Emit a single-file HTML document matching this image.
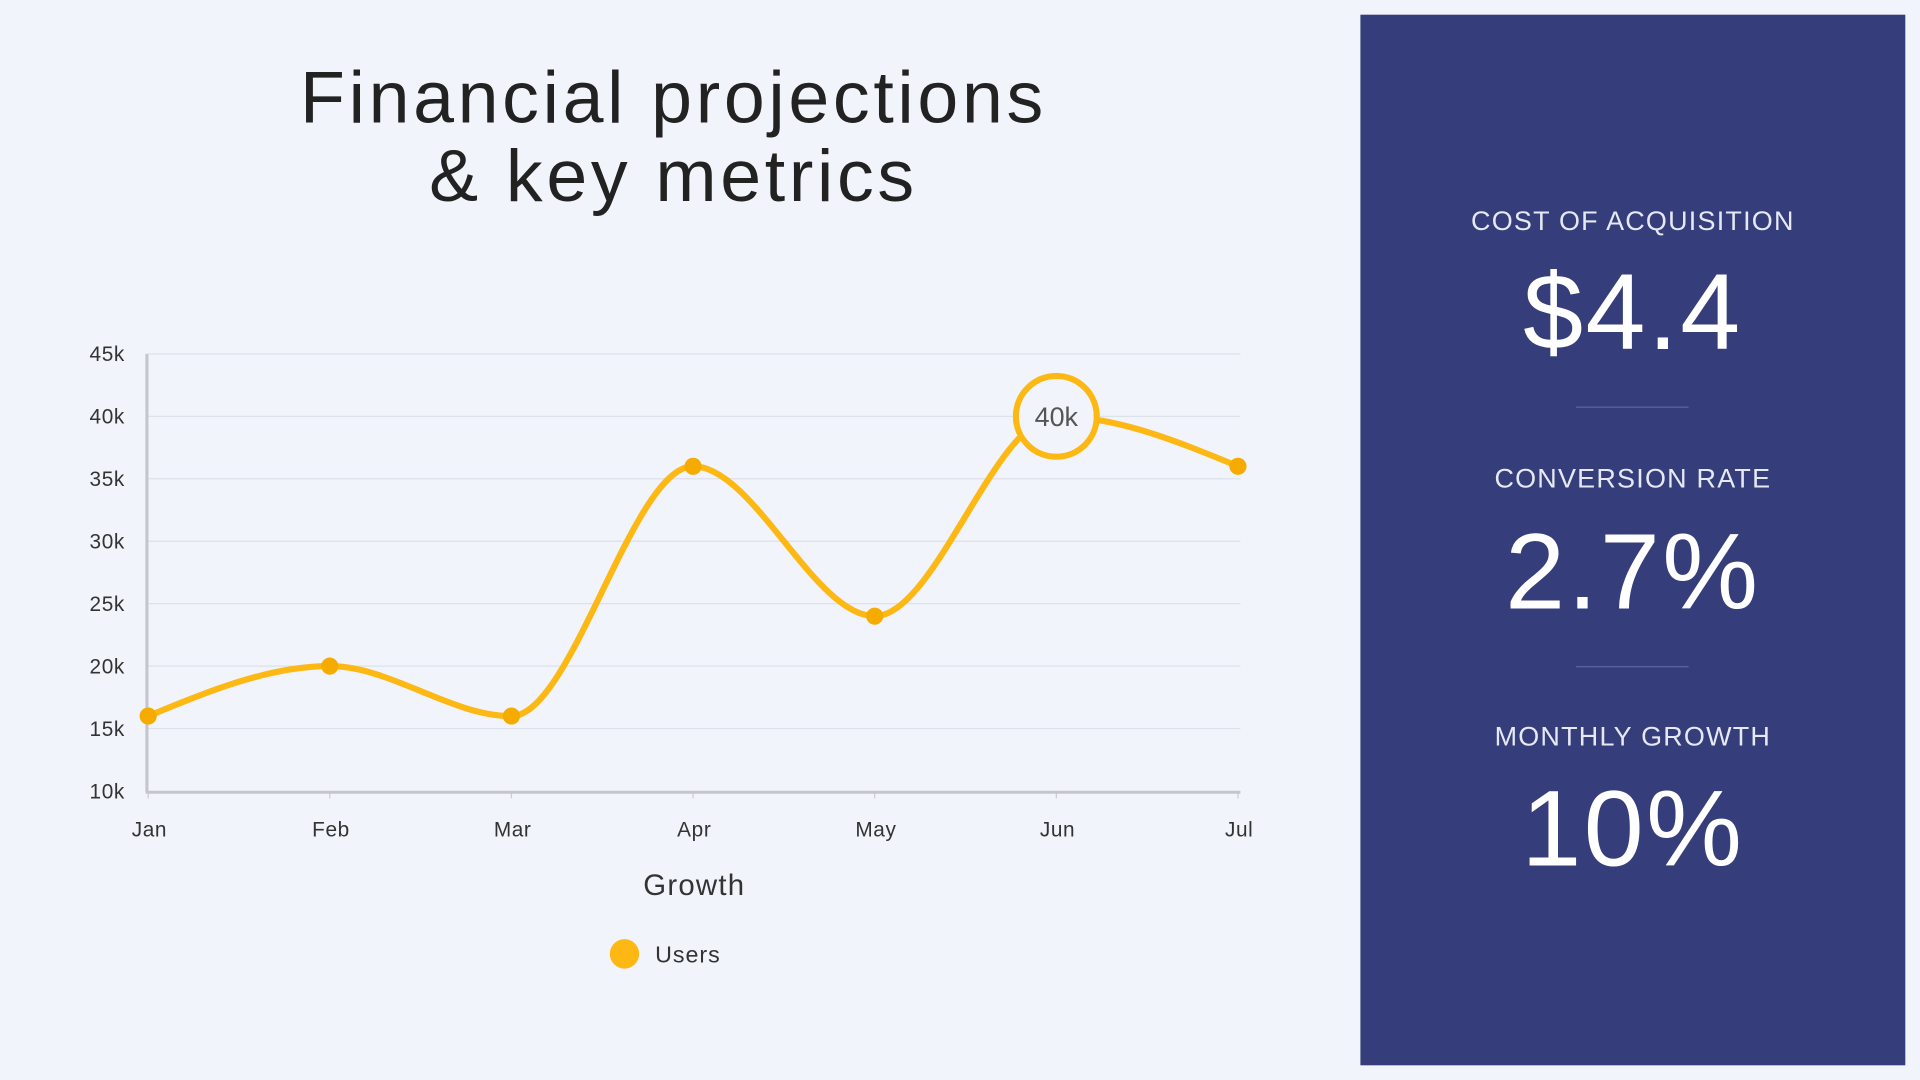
<!DOCTYPE html>
<html><head><meta charset="utf-8"><style>
html,body{margin:0;padding:0;width:1920px;height:1080px;overflow:hidden;background:#f1f4fb;}
#stage{position:absolute;left:0;top:0;width:1568px;height:882px;transform:scale(1.22449);transform-origin:0 0;font-family:"Liberation Sans",sans-serif;}
.t{position:absolute;white-space:nowrap;}
#panel{position:absolute;left:1111px;top:12px;width:445px;height:858px;background:#353e7a;}
.lbl{position:absolute;left:0;width:445px;text-align:center;color:#e6e9f5;font-size:22px;letter-spacing:1px;}
.val{position:absolute;left:0;width:445px;text-align:center;color:#fff;font-size:88px;letter-spacing:2px;}
.div{position:absolute;left:176px;width:92px;height:1px;background:#5d66a0;}
</style></head><body>
<div id="stage">
<div class="t" style="left:150px;top:48px;width:800px;text-align:center;font-size:60px;line-height:64px;color:#222;letter-spacing:3px;">Financial projections<br>&amp; key metrics</div>
<svg id="chart" width="1100" height="882" style="position:absolute;left:0;top:0;"></svg>
<div id="panel">
<div class="lbl" style="top:156px;">COST OF ACQUISITION</div>
<div class="val" style="top:192px;">$4.4</div>
<div class="div" style="top:320px;"></div>
<div class="lbl" style="top:366px;">CONVERSION RATE</div>
<div class="val" style="top:404px;">2.7%</div>
<div class="div" style="top:532px;"></div>
<div class="lbl" style="top:577px;">MONTHLY GROWTH</div>
<div class="val" style="top:614px;">10%</div>
</div>
</div>
<script>
const categories=["Jan","Feb","Mar","Apr","May","Jun","Jul"];
const users=[16000,20000,16000,36000,24000,40000,36000];
const yTicks=[10000,15000,20000,25000,30000,35000,40000,45000];
const yTickLabels=["10k","15k","20k","25k","30k","35k","40k","45k"];
const highlightIndex=5;
const highlightLabel="40k";
const NS="http://www.w3.org/2000/svg";
const svg=document.getElementById('chart');
const X0=121,X1=1011,Y0=646,Y1=289,YMIN=10000,YMAX=45000;
function xs(i){return X0+(X1-X0)*i/(categories.length-1);}
function ys(v){return Y0-(Y0-Y1)*(v-YMIN)/(YMAX-YMIN);}
function mk(tag,attrs){const e=document.createElementNS(NS,tag);for(const k in attrs)e.setAttribute(k,attrs[k]);svg.appendChild(e);return e;}
yTicks.forEach((v,i)=>{
 const y=ys(v);
 if(i>0){const g=mk('line',{x1:X0,x2:1013,y1:y,y2:y,stroke:'#dde1ea','stroke-width':1});
 
 }
 const t=mk('text',{x:102,y:y+6,'text-anchor':'end','font-size':17,fill:'#333','letter-spacing':0.5,'font-family':'Liberation Sans, sans-serif'});
 t.textContent=yTickLabels[i];
 
 
});
categories.forEach((c,i)=>{
 const t=mk('text',{x:xs(i)+1,y:683,'text-anchor':'middle','font-size':17,fill:'#333','letter-spacing':0.5,'font-family':'Liberation Sans, sans-serif'});
 t.textContent=c;
 
 
 const tk=mk('line',{x1:xs(i),x2:xs(i),y1:646,y2:652,stroke:'#ccc'});
 
 
});
const ya=mk('line',{x1:120,x2:120,y1:289,y2:647,stroke:'#c4c6cc','stroke-width':2.5});


const xa=mk('line',{x1:119,x2:1013,y1:647,y2:647,stroke:'#c4c6cc','stroke-width':2.5});


const px=categories.map((c,i)=>xs(i)),py=users.map(ys);
const n=px.length,d=[],m=[];
for(let i=0;i<n-1;i++)d.push((py[i+1]-py[i])/(px[i+1]-px[i]));
for(let i=0;i<n;i++){
 if(i===0)m.push(d[0]);else if(i===n-1)m.push(d[n-2]);
 else m.push(d[i-1]*d[i]<=0?0:2/(1/d[i-1]+1/d[i]));
}
m[0]=(3*d[0]-m[1])/2; m[n-1]=(3*d[n-2]-m[n-2])/2;
let p=`M${px[0]},${py[0]}`;
for(let i=0;i<n-1;i++){const h=(px[i+1]-px[i])/3;p+=` C${px[i]+h},${py[i]+m[i]*h} ${px[i+1]-h},${py[i+1]-m[i+1]*h} ${px[i+1]},${py[i+1]}`;}
const line=mk('path',{d:p,fill:'none',stroke:'#fdb813','stroke-width':5,'stroke-linecap':'round'});


users.forEach((v,i)=>{
 if(i===highlightIndex){
  const c=mk('circle',{cx:xs(i),cy:ys(v),r:33,fill:'#f1f4fb',stroke:'#fdb813','stroke-width':5});
  
  
  const t=mk('text',{x:xs(i),y:ys(v)+8,'text-anchor':'middle','font-size':22,fill:'#555','font-family':'Liberation Sans, sans-serif'});
  t.textContent=highlightLabel;
  
  
 } else {
  const c=mk('circle',{cx:xs(i),cy:ys(v),r:7,fill:'#f6ab00'});
  
  
 }
});
const xt=mk('text',{x:567,y:731,'text-anchor':'middle','font-size':24,fill:'#333','letter-spacing':1,'font-family':'Liberation Sans, sans-serif'});
xt.textContent='Growth';


const lc=mk('circle',{cx:510,cy:779,r:12,fill:'#fdb813'});


const lt=mk('text',{x:535,y:786,'font-size':19,fill:'#333','letter-spacing':0.8,'font-family':'Liberation Sans, sans-serif'});
lt.textContent='Users';


</script>
</body></html>
